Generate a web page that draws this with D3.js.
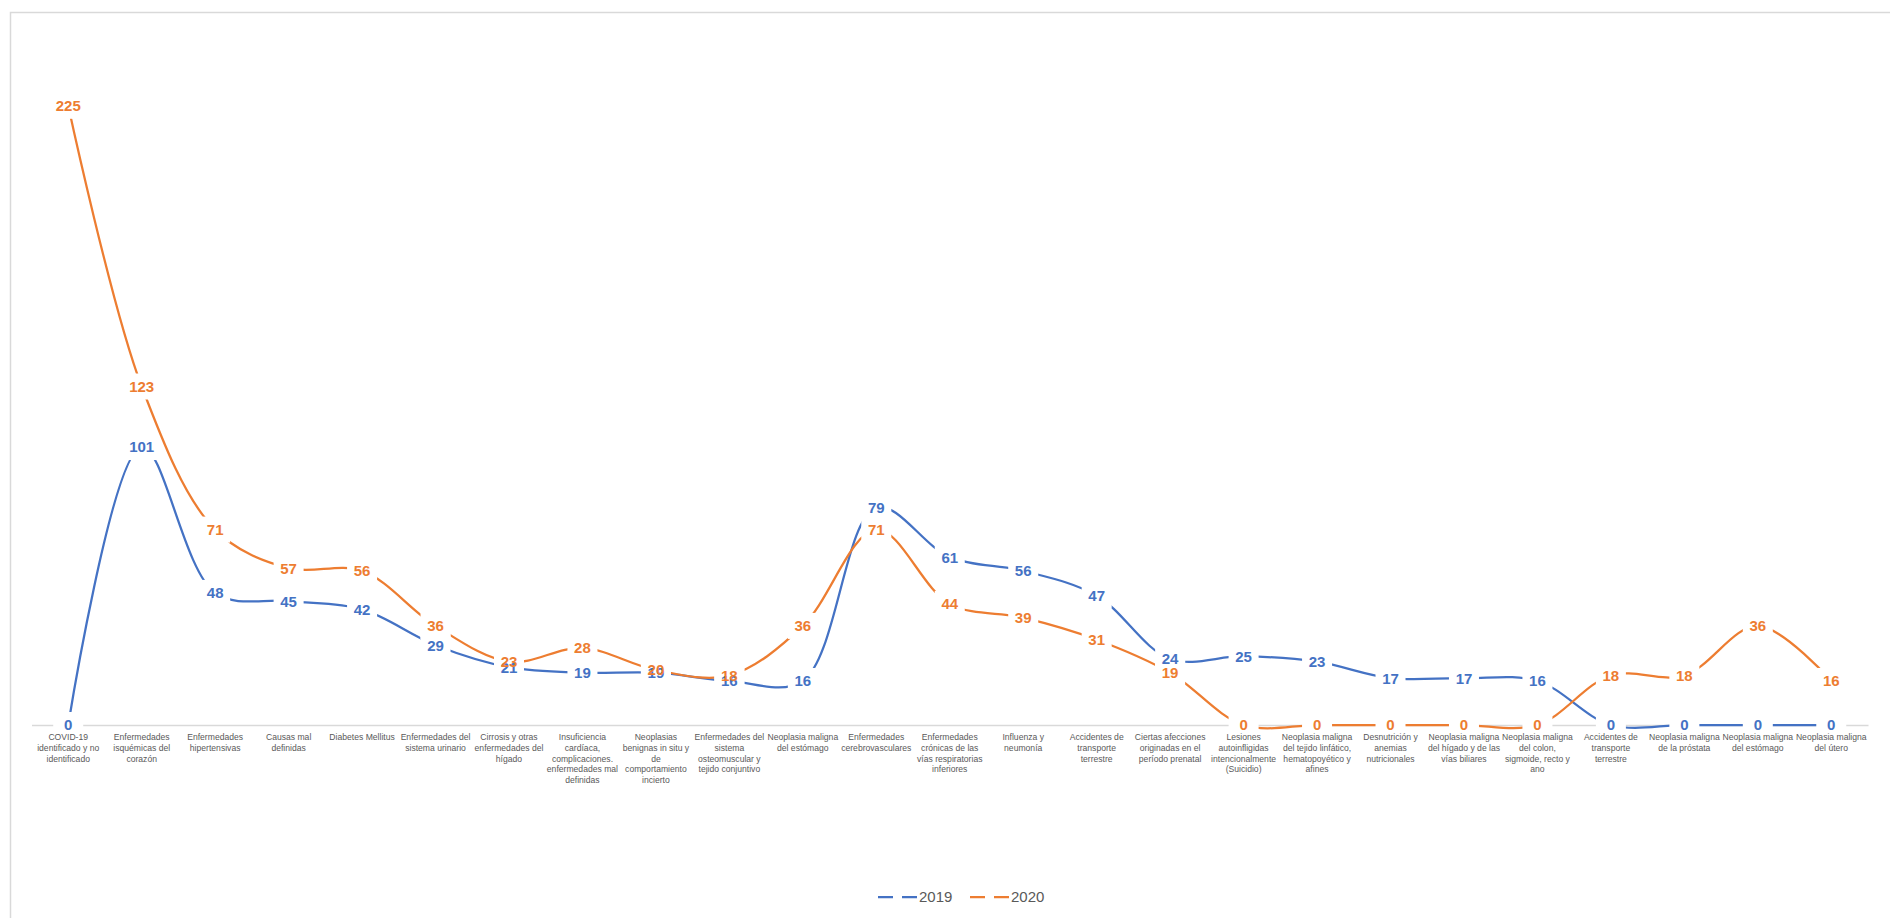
<!DOCTYPE html>
<html>
<head>
<meta charset="utf-8">
<script src="https://cdn.jsdelivr.net/npm/d3@7"></script>
<style>
  html, body { margin: 0; padding: 0; background: #fff; }
  svg { display: block; }
</style>
</head>
<body>
<svg id="chart" width="1890" height="918"></svg>
<script>
// Causes of death, 2019 vs 2020 (line breaks as shown under the axis)
const categories = [
  "COVID-19\nidentificado y no\nidentificado",
  "Enfermedades\nisquémicas del\ncorazón",
  "Enfermedades\nhipertensivas",
  "Causas mal\ndefinidas",
  "Diabetes Mellitus",
  "Enfermedades del\nsistema urinario",
  "Cirrosis y otras\nenfermedades del\nhígado",
  "Insuficiencia\ncardíaca,\ncomplicaciones.\nenfermedades mal\ndefinidas",
  "Neoplasias\nbenignas in situ y\nde\ncomportamiento\nincierto",
  "Enfermedades del\nsistema\nosteomuscular y\ntejido conjuntivo",
  "Neoplasia maligna\ndel estómago",
  "Enfermedades\ncerebrovasculares",
  "Enfermedades\ncrónicas de las\nvías respiratorias\ninferiores",
  "Influenza y\nneumonía",
  "Accidentes de\ntransporte\nterrestre",
  "Ciertas afecciones\noriginadas en el\nperíodo prenatal",
  "Lesiones\nautoinfligidas\nintencionalmente\n(Suicidio)",
  "Neoplasia maligna\ndel tejido linfático,\nhematopoyético y\nafines",
  "Desnutrición y\nanemias\nnutricionales",
  "Neoplasia maligna\ndel hígado y de las\nvías biliares",
  "Neoplasia maligna\ndel colon,\nsigmoide, recto y\nano",
  "Accidentes de\ntransporte\nterrestre",
  "Neoplasia maligna\nde la próstata",
  "Neoplasia maligna\ndel estómago",
  "Neoplasia maligna\ndel útero"
];

const values2019 = [0, 101, 48, 45, 42, 29, 21, 19, 19, 16, 16, 79, 61, 56, 47, 24, 25, 23, 17, 17, 16, 0, 0, 0, 0];
const values2020 = [225, 123, 71, 57, 56, 36, 23, 28, 20, 18, 36, 71, 44, 39, 31, 19, 0, 0, 0, 0, 0, 18, 18, 36, 16];

const seriesNames = ["2019", "2020"];
const seriesColors = ["#4472C4", "#ED7D31"];
const yDomain = [0, 250];

const svg = d3.select("#chart");

// outer chart frame
svg.append("rect")
  .attr("x", 10.5).attr("y", 12.5)
  .attr("width", 1920).attr("height", 940)
  .attr("fill", "none")
  .attr("stroke", "#d9d9d9")
  .attr("stroke-width", 1.5);

const idx = d3.range(categories.length);
const x = d3.scaleBand().domain(idx).range([31.5, 1868]).padding(0);
const cx = i => x(i) + x.bandwidth() / 2;
const y = d3.scaleLinear().domain(yDomain).range([725, 37]);

// category axis (line only; labels drawn separately)
const axisG = svg.append("g")
  .attr("transform", `translate(0,${y(0)})`)
  .call(d3.axisBottom(x).tickSize(0).tickFormat(""));
axisG.select(".domain").attr("stroke", "#d9d9d9").attr("stroke-width", 1.5);

const series = [values2019, values2020].map((vals, s) => ({
  name: seriesNames[s],
  color: seriesColors[s],
  points: vals.map((v, i) => ({ i, v }))
}));

const line = d3.line()
  .x(d => cx(d.i))
  .y(d => y(d.v))
  .curve(d3.curveCatmullRom.alpha(0.5));

svg.append("g").selectAll("path")
  .data(series)
  .join("path")
  .attr("d", d => line(d.points))
  .attr("fill", "none")
  .attr("stroke", d => d.color)
  .attr("stroke-width", 2.25)
  .attr("stroke-linecap", "round");

// data labels: white backing boxes first, then the text
const labelData = series.flatMap(s => s.points.map(p => ({ ...p, color: s.color })));

const boxes = svg.append("g");
const labels = svg.append("g")
  .attr("font-family", "Liberation Sans, Arial, sans-serif")
  .attr("font-weight", "bold")
  .attr("font-size", 15);

labels.selectAll("text")
  .data(labelData)
  .join("text")
  .attr("x", d => cx(d.i))
  .attr("y", d => y(d.v))
  .attr("dy", "0.36em")
  .attr("text-anchor", "middle")
  .attr("fill", d => d.color)
  .text(d => d.v)
  .each(function (d) { d.w = this.getComputedTextLength(); });

boxes.selectAll("rect")
  .data(labelData)
  .join("rect")
  .attr("x", d => cx(d.i) - Math.max(d.w + 8, 30) / 2)
  .attr("y", d => y(d.v) - 13)
  .attr("width", d => Math.max(d.w + 8, 30))
  .attr("height", 26)
  .attr("fill", "#fff");

// category labels under the axis
const catG = svg.append("g")
  .attr("font-family", "Liberation Sans, Arial, sans-serif")
  .attr("font-size", 8.6)
  .attr("fill", "#595959");

catG.selectAll("text")
  .data(idx)
  .join("text")
  .attr("x", i => cx(i))
  .attr("y", 740)
  .attr("text-anchor", "middle")
  .each(function (i) {
    const t = d3.select(this);
    categories[i].split("\n").forEach((ln, k) => {
      t.append("tspan")
        .attr("x", cx(i))
        .attr("dy", k === 0 ? 0 : 10.8)
        .text(ln);
    });
  });

// legend
const legend = svg.append("g")
  .attr("font-family", "Liberation Sans, Arial, sans-serif")
  .attr("font-size", 15)
  .attr("fill", "#595959");

const legendX = [878, 970];
series.forEach((s, k) => {
  const g = legend.append("g").attr("transform", `translate(${legendX[k]},897)`);
  g.append("line")
    .attr("x1", 0).attr("x2", 39)
    .attr("y1", 0).attr("y2", 0)
    .attr("stroke", s.color)
    .attr("stroke-width", 2.25)
    .attr("stroke-dasharray", "15,9");
  g.append("text")
    .attr("x", 41)
    .attr("dy", "0.36em")
    .text(s.name);
});
</script>
</body>
</html>
